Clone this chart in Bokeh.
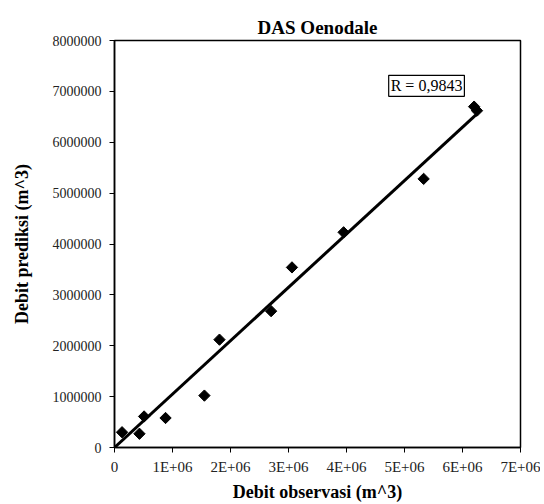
import numpy as np
from bokeh.plotting import figure
from bokeh.models import Label, FixedTicker, Range1d
from bokeh.embed import file_html
from bokeh.resources import INLINE

obs = [0.13e6, 0.43e6, 0.51e6, 0.88e6, 1.55e6, 1.81e6, 2.70e6, 3.06e6, 3.95e6, 5.33e6, 6.20e6, 6.25e6]
pred = [0.30e6, 0.27e6, 0.61e6, 0.58e6, 1.02e6, 2.12e6, 2.68e6, 3.54e6, 4.23e6, 5.28e6, 6.70e6, 6.62e6]
x_ticks = [0, 1e6, 2e6, 3e6, 4e6, 5e6, 6e6, 7e6]
x_tick_labels = ["0", "1E+06", "2E+06", "3E+06", "4E+06", "5E+06", "6E+06", "7E+06"]
y_ticks = [0, 1e6, 2e6, 3e6, 4e6, 5e6, 6e6, 7e6, 8e6]
y_tick_labels = ["0", "1000000", "2000000", "3000000", "4000000", "5000000", "6000000", "7000000", "8000000"]
r_text = "R = 0,9843"

xa = np.array(obs)
ya = np.array(pred)
slope = float((xa * ya).sum() / (xa * xa).sum())
fit_x = [0.0, float(xa.max())]
fit_y = [slope * v for v in fit_x]

FONT = "Liberation Serif"

p = figure(width=540, height=504, output_backend="svg", toolbar_location=None,
           x_range=Range1d(0, 7e6), y_range=Range1d(0, 8e6),
           min_border_left=114, min_border_right=20, min_border_top=40, min_border_bottom=50,
           title="DAS Oenodale")
p.title.align = "center"
p.title.text_font = FONT
p.title.text_font_size = "19px"
p.title.text_font_style = "bold"
p.title.text_color = "black"
p.title.standoff = 6

p.xgrid.visible = False
p.ygrid.visible = False
p.outline_line_color = "black"
p.outline_line_width = 1.5

for ax in (p.xaxis[0], p.yaxis[0]):
    ax.major_label_text_font = FONT
    ax.major_label_text_font_size = "14px"
    ax.major_label_text_color = "#222222"
    ax.axis_label_text_font = FONT
    ax.axis_label_text_font_size = "18px"
    ax.axis_label_text_font_style = "bold"
    ax.axis_label_text_color = "black"
    ax.axis_line_color = "black"
    ax.axis_line_width = 1.5
    ax.major_tick_line_color = "black"
    ax.major_tick_in = 0
    ax.major_tick_out = 5
    ax.minor_tick_line_color = None

p.xaxis.major_label_text_font_size = "15px"
p.xaxis.ticker = FixedTicker(ticks=x_ticks)
p.xaxis.major_label_overrides = {t: l for t, l in zip(x_ticks, x_tick_labels)}
p.yaxis.ticker = FixedTicker(ticks=y_ticks)
p.yaxis.major_label_overrides = {t: l for t, l in zip(y_ticks, y_tick_labels)}
p.yaxis.major_label_standoff = 8
p.xaxis.major_label_standoff = 6
p.xaxis.axis_label = "Debit observasi (m^3)"
p.yaxis.axis_label = "Debit prediksi (m^3)"
p.yaxis.axis_label_standoff = 18
p.xaxis.axis_label_standoff = 4

p.line(fit_x, fit_y, line_color="black", line_width=3)
p.scatter(obs, pred, marker="square", angle=np.pi / 4, size=8,
          fill_color="black", line_color="black")

lab = Label(x=5.38e6, y=7.11e6, text=r_text, text_font=FONT, text_font_size="16px",
            text_align="center", text_baseline="middle", text_color="black",
            border_line_color="black", border_line_width=1.2,
            background_fill_color="white", padding=2)
p.add_layout(lab)

open("out.html", "w").write(file_html(p, INLINE))
